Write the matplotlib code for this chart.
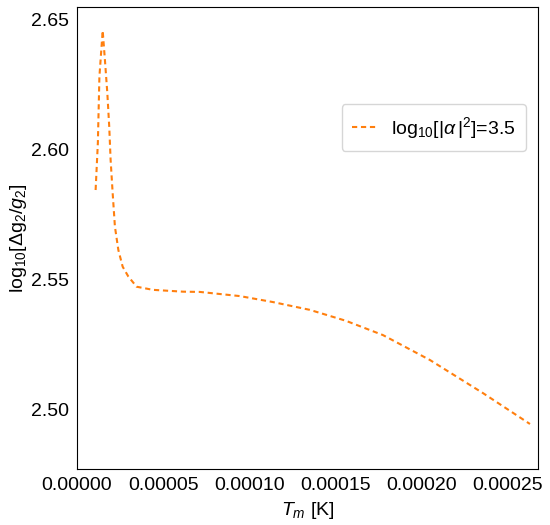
import matplotlib
import numpy as np
import matplotlib.pyplot as plt
from matplotlib.ticker import FormatStrFormatter
matplotlib.use('Agg')

plt.rcParams['font.family'] = ['Liberation Sans', 'DejaVu Sans']
plt.rcParams['mathtext.fontset'] = 'custom'
plt.rcParams['mathtext.rm'] = 'Liberation Sans'
plt.rcParams['mathtext.it'] = 'Liberation Sans:italic'

# values
t_m = [1.08e-5, 1.21e-5, 1.30e-5, 1.49e-5, 1.62e-5, 1.76e-5, 1.87e-5, 1.95e-5,
       2.07e-5, 2.20e-5, 2.40e-5, 2.65e-5, 2.98e-5, 3.46e-5, 4.41e-5, 6.15e-5,
       7.13e-5, 9.45e-5, 1.137e-4, 1.351e-4, 1.56e-4, 1.775e-4, 2.048e-4,
       2.355e-4, 2.628e-4]
log_dg = [2.5846, 2.6027, 2.6282, 2.6459, 2.6346, 2.6218, 2.6090, 2.5962,
          2.5833, 2.5705, 2.5615, 2.5551, 2.5513, 2.5474, 2.5462, 2.5455,
          2.5454, 2.5438, 2.5415, 2.5385, 2.5343, 2.5288, 2.5192,
          2.5065, 2.4946]

x_ticks = [0.0, 0.00005, 0.0001, 0.00015, 0.0002, 0.00025]
y_ticks = [2.50, 2.55, 2.60, 2.65]


def main():
    fig = plt.figure(figsize=(5.5, 5.25), dpi=100)
    ax = fig.add_axes([0.14, 0.1067, 0.838, 0.88])

    ax.plot(t_m, log_dg, color='#ff7f0e', lw=1.5, dashes=(2.5, 1.8),
            label=r'log$_{10}$[|$\alpha\,|^2$]=3.5')

    ax.set_xlim(0, 0.0002674)
    ax.set_ylim(2.4773, 2.655)
    ax.set_xticks(x_ticks)
    ax.set_yticks(y_ticks)
    ax.xaxis.set_major_formatter(FormatStrFormatter('%.5f'))
    ax.yaxis.set_major_formatter(FormatStrFormatter('%.2f'))
    ax.tick_params(length=0, labelsize=14, pad=6)

    ax.set_xlabel(r'$T_m$ [K]', fontsize=14, labelpad=4)
    ax.set_ylabel(r'log$_{10}$[$\Delta$g$_2$/$g_2$]', fontsize=14, labelpad=1)

    ax.legend(loc='upper right', bbox_to_anchor=(0.975, 0.79), borderaxespad=0,
              fontsize=14, handlelength=1.2, borderpad=0.55)

    fig.savefig('out.png', dpi=100)


main()
